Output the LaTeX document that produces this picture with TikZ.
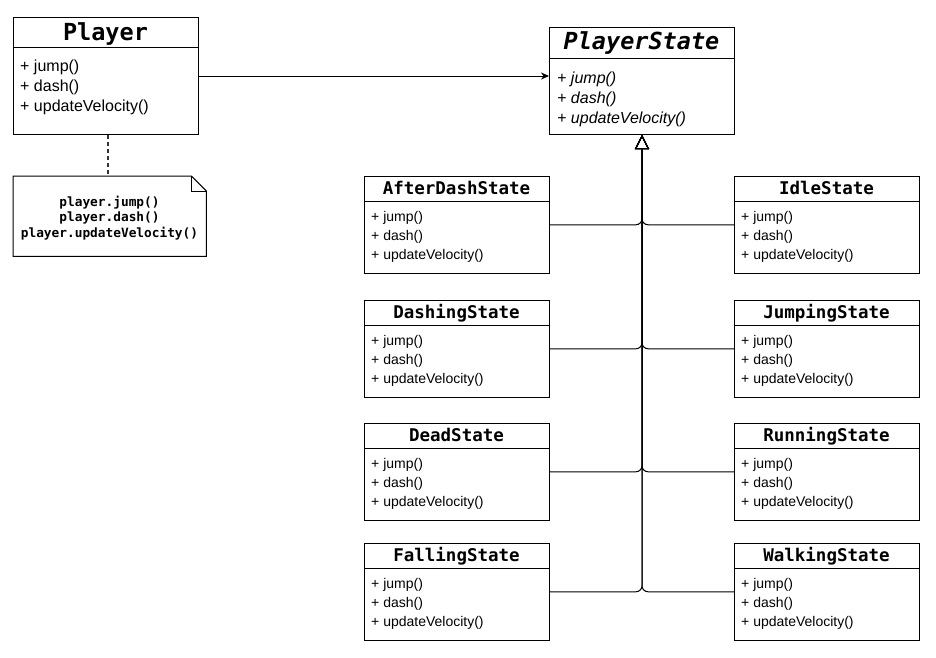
\documentclass[tikz,border=0pt]{standalone}
\usepackage{fontspec}
\setmainfont{Liberation Sans}
\setmonofont{DejaVu Sans Mono}
\usetikzlibrary{arrows.meta}

\tikzset{
  classbox/.style={draw, line width=1pt, fill=white, inner sep=0pt},
  bigtitle/.style={inner sep=0pt, font=\fontsize{23.5}{28}\selectfont\ttfamily\bfseries},
  smalltitle/.style={inner sep=0pt, font=\fontsize{17.5}{21}\selectfont\ttfamily\bfseries},
  bigops/.style={inner sep=0pt, font=\fontsize{16}{19}\selectfont},
  smallops/.style={inner sep=0pt, font=\fontsize{14}{17}\selectfont},
  notetext/.style={inner sep=0pt, font=\fontsize{12.8}{15.5}\selectfont\ttfamily\bfseries},
  inherit/.style={line width=1pt, rounded corners=6pt, -{Triangle[open, length=14pt, width=14pt]}},
}

\newcommand{\umlbox}[6]{%
  \node[classbox, minimum width=#4pt, minimum height=#5pt, anchor=north west] (#1) at (#2,#3) {};
  \draw[line width=1pt] ([yshift=-#6pt]#1.north west) -- ([yshift=-#6pt]#1.north east);
}

\begin{document}
\begin{tikzpicture}[x=1pt, y=-1pt]
  \useasboundingbox (0,0) rectangle (936,657);
  % the player and its state
  \umlbox{player}{13}{17}{185}{117}{30}
  \node[bigtitle, anchor=base] (player-title) at (105.5,40) {Player};
  \foreach \meth [count=\i] in {jump,dash,updateVelocity}
    \node[bigops, anchor=base west] (player-\meth) at (20,51.5+20*\i) {+ \meth()};
  \umlbox{ps}{549}{27}{185}{107}{31}
  \node[bigtitle, anchor=base] (ps-title) at (641.5,49.5) {\itshape PlayerState};
  \foreach \meth [count=\i] in {jump,dash,updateVelocity}
    \node[bigops, anchor=base west] (ps-\meth) at (557,63.5+20*\i) {\itshape + \meth()};
  \draw[line width=1pt, -{Stealth[length=8pt, width=7pt]}] (player.east) -- (player.east -| ps.west);
  % note
  \node[minimum width=193pt, minimum height=80pt, inner sep=0pt, anchor=north west] (note) at (13,176) {};
  \draw[line width=1pt] (note.north west) -- ([xshift=-15pt]note.north east) -- ([yshift=-15pt]note.north east)
    -- (note.south east) -- (note.south west) -- cycle;
  \draw[line width=1pt] ([xshift=-15pt]note.north east) |- ([yshift=-15pt]note.north east);
  \foreach \meth [count=\i] in {jump,dash,updateVelocity}
    \node[notetext, anchor=base] (note-\meth) at (109.5,190.5+15.5*\i) {player.\meth()};
  \draw[line width=1.5pt, black!80, dash pattern=on 4pt off 3pt] ([xshift=2pt]player.south) -- ([xshift=2pt]player.south |- note.north);
  % the states
  \foreach \nm/\lx/\ty/\sd in {AfterDashState/364/176/east, DashingState/364/300/east,
      DeadState/364/423/east, FallingState/364/543/east, IdleState/734/176/west,
      JumpingState/734/300/west, RunningState/734/423/west, WalkingState/734/543/west} {
    \umlbox{\nm}{\lx}{\ty}{185}{96.5}{25}
    \node[smalltitle, anchor=base] (\nm-title) at (\lx+92.5,\ty+18.5) {\nm};
    \foreach \meth [count=\i] in {jump,dash,updateVelocity}
      \node[smallops, anchor=base west] (\nm-\meth) at (\lx+7,\ty+26+19*\i) {+ \meth()};
    \draw[inherit] (\nm.\sd) -| (ps.south);
  }
\end{tikzpicture}
\end{document}
